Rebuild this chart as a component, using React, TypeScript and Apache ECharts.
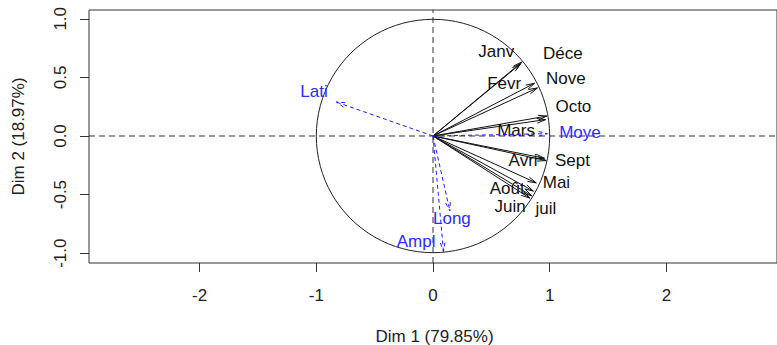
import React, { useEffect, useRef } from "react";
import * as echarts from "echarts";

// Active variables (months): coordinates on Dim 1 / Dim 2
const activeNames = ["Janv", "Févr", "Mars", "Avri", "Mai", "Juin", "juil", "Août", "Sept", "Octo", "Nove", "Déce"];
const activeDim1 = [0.76, 0.87, 0.965, 0.955, 0.885, 0.845, 0.83, 0.86, 0.97, 0.975, 0.895, 0.75];
const activeDim2 = [0.63, 0.45, 0.14, -0.19, -0.4, -0.51, -0.53, -0.47, -0.21, 0.17, 0.41, 0.615];
// Label anchor points (data units)
const activeLabelX = [0.542, 0.61, 0.712, 0.772, 1.058, 0.661, 0.968, 0.636, 1.195, 1.203, 1.139, 1.113];
const activeLabelY = [0.717, 0.448, 0.051, -0.205, -0.397, -0.602, -0.619, -0.448, -0.205, 0.252, 0.491, 0.704];

// Supplementary variables
const supNames = ["Moye", "Ampl", "Lati", "Long"];
const supDim1 = [0.98, 0.09, -0.83, 0.145];
const supDim2 = [0.02, -0.985, 0.29, -0.64];
const supLabelX = [1.259, -0.145, -1.02, 0.162];
const supLabelY = [0.034, -0.9, 0.38, -0.708];

const xTicks = [-2, -1, 0, 1, 2];
const yTicks = [-1, -0.5, 0, 0.5, 1];

const X_MIN = -2.948;
const X_MAX = 2.948;
const Y_MIN = -1.0836;
const Y_MAX = 1.075;

const FONT = '"Liberation Sans", Arial, sans-serif';
const FS = 17;

function arrowItem(names: string[], color: string, textColor: string, dash: number[] | null) {
  return (params: any, api: any) => {
    const i = params.dataIndex;
    const o = api.coord([0, 0]);
    const t = api.coord([api.value(0), api.value(1)]);
    const l = api.coord([api.value(2), api.value(3)]);
    const ang = Math.atan2(t[1] - o[1], t[0] - o[0]);
    const L = 9;
    const a = (15 * Math.PI) / 180;
    const p1 = [t[0] - L * Math.cos(ang - a), t[1] - L * Math.sin(ang - a)];
    const p2 = [t[0] - L * Math.cos(ang + a), t[1] - L * Math.sin(ang + a)];
    const st: any = { stroke: color, lineWidth: 1, fill: "none" };
    if (dash) st.lineDash = dash;
    return {
      type: "group",
      children: [
        { type: "line", shape: { x1: o[0], y1: o[1], x2: t[0], y2: t[1] }, style: st },
        { type: "polyline", shape: { points: [p1, t, p2] }, style: st },
        {
          type: "text",
          x: l[0],
          y: l[1],
          style: {
            text: names[i],
            fill: textColor,
            font: `${FS}px ${FONT}`,
            align: "center",
            verticalAlign: "middle",
          },
        },
      ],
    };
  };
}

export default function App() {
  const ref = useRef<HTMLDivElement>(null);
  useEffect(() => {
    if (!ref.current) return;
    const chart = echarts.init(ref.current, null, { renderer: "svg" });
    const activeData = activeNames.map((_, i) => [activeDim1[i], activeDim2[i], activeLabelX[i], activeLabelY[i]]);
    const supData = supNames.map((_, i) => [supDim1[i], supDim2[i], supLabelX[i], supLabelY[i]]);
    const axisTextStyle = { fontSize: FS, color: "#222", fontFamily: FONT };
    chart.setOption({
      animation: false,
      backgroundColor: "#fff",
      grid: {
        left: 89,
        top: 10,
        width: 691,
        height: 253,
        show: true,
        borderColor: "#333",
        borderWidth: 1,
        backgroundColor: "transparent",
      },
      xAxis: {
        type: "value",
        min: X_MIN,
        max: X_MAX,
        splitLine: { show: false },
        axisLine: { show: false, onZero: false },
        axisTick: { show: true, length: 9, lineStyle: { color: "#333" }, customValues: xTicks },
        axisLabel: { ...axisTextStyle, margin: 24, customValues: xTicks, formatter: (v: number) => String(v) },
      },
      yAxis: {
        type: "value",
        min: Y_MIN,
        max: Y_MAX,
        splitLine: { show: false },
        axisLine: { show: false, onZero: false },
        axisTick: { show: true, length: 9, lineStyle: { color: "#333" }, customValues: yTicks },
        axisLabel: {
          ...axisTextStyle,
          rotate: 90,
          margin: 20,
          customValues: yTicks,
          formatter: (v: number) => v.toFixed(1),
        },
      },
      graphic: [
        {
          type: "text",
          x: 434.5,
          y: 336,
          style: { text: "Dim 1 (79.85%)", font: `${FS}px ${FONT}`, fill: "#222", align: "center", verticalAlign: "middle" },
        },
        {
          type: "text",
          x: 18,
          y: 136.5,
          rotation: Math.PI / 2,
          style: { text: "Dim 2 (18.97%)", font: `${FS}px ${FONT}`, fill: "#222", align: "center", verticalAlign: "middle" },
        },
      ],
      series: [
        {
          type: "custom",
          clip: false,
          silent: true,
          data: [[0, 0]],
          renderItem: (_p: any, api: any) => {
            const a1 = api.coord([X_MIN, 0]);
            const a2 = api.coord([X_MAX, 0]);
            const b1 = api.coord([0, Y_MIN]);
            const b2 = api.coord([0, Y_MAX]);
            const st = { stroke: "#333", lineWidth: 1, lineDash: [6, 4] };
            return {
              type: "group",
              children: [
                { type: "line", shape: { x1: a1[0], y1: a1[1], x2: a2[0], y2: a2[1] }, style: st },
                { type: "line", shape: { x1: b1[0], y1: b1[1], x2: b2[0], y2: b2[1] }, style: st },
              ],
            };
          },
        },
        {
          type: "custom",
          clip: false,
          silent: true,
          data: [[0, 0]],
          renderItem: (_p: any, api: any) => {
            const c = api.coord([0, 0]);
            const r = api.size([1, 1]);
            return {
              type: "circle",
              shape: { cx: c[0], cy: c[1], r: r[0] },
              style: { fill: "none", stroke: "#222", lineWidth: 1 },
            };
          },
        },
        {
          type: "custom",
          clip: false,
          silent: true,
          data: activeData,
          encode: { x: 0, y: 1 },
          renderItem: arrowItem(activeNames, "#111", "#111", null),
        },
        {
          type: "custom",
          clip: false,
          silent: true,
          data: supData,
          encode: { x: 0, y: 1 },
          renderItem: arrowItem(supNames, "#2020ff", "#2b2bff", [4, 3]),
        },
      ],
    });
    return () => chart.dispose();
  }, []);
  return <div ref={ref} style={{ position: "absolute", left: 0, top: 0, width: 777, height: 345 }} />;
}
